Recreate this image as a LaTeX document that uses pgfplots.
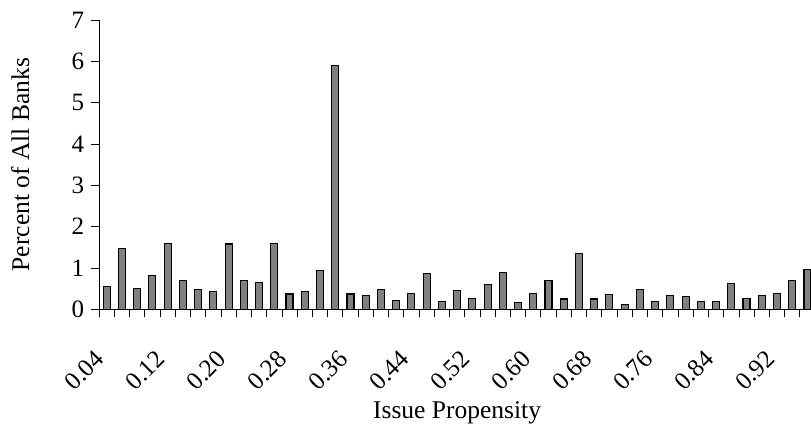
\documentclass[border=0pt]{standalone}
\usepackage{pgfplots}
\pgfplotsset{compat=1.18}
\usepackage{fontspec}
\setmainfont{Liberation Serif}

\begin{document}
\begin{tikzpicture}
  \begin{axis}[
      scale only axis,
      width=716pt, height=289.3pt,
      xmin=0.5, xmax=47.5,
      ymin=0, ymax=7,
      ytick={0,...,7},
      axis lines*=left,
      axis line style={black, line width=0.8pt},
      tick style={black, line width=0.8pt},
      tick align=outside,
      major tick length=8pt,
      /pgf/number format/assume math mode=true,
      tick label style={font=\fontsize{25}{25}\selectfont},
      y tick label style={xshift=-3.5pt},
      xtick={0.5,1.5,...,47.5},
      xticklabels={0.04,,,,0.12,,,,0.20,,,,0.28,,,,
                   0.36,,,,0.44,,,,0.52,,,,0.60,,,,
                   0.68,,,,0.76,,,,0.84,,,,0.92,,,},
      x tick label style={xshift=3.3pt, yshift=-35pt, rotate=45, anchor=east},
      xlabel={Issue Propensity},
      ylabel={Percent of All Banks},
      label style={font=\fontsize{25.5}{25.5}\selectfont},
      xlabel style={at={(axis description cs:0.5,-0.377)}, anchor=base},
      ylabel style={at={(axis description cs:-0.11,0.5)}, anchor=center},
      ybar, bar width=7pt,
    ]
    \addplot[fill=black!50, draw=black, line width=1.1pt] coordinates {
      (1,0.55) (2,1.48) (3,0.50) (4,0.81) (5,1.60) (6,0.70) (7,0.48) (8,0.42)
      (9,1.58) (10,0.69) (11,0.65) (12,1.60) (13,0.37) (14,0.42) (15,0.94) (16,5.90)
      (17,0.37) (18,0.34) (19,0.48) (20,0.22) (21,0.38) (22,0.87) (23,0.19) (24,0.46)
      (25,0.26) (26,0.61) (27,0.89) (28,0.17) (29,0.38) (30,0.70) (31,0.25) (32,1.35)
      (33,0.25) (34,0.35) (35,0.12) (36,0.48) (37,0.19) (38,0.33) (39,0.30) (40,0.19)
      (41,0.19) (42,0.63) (43,0.27) (44,0.33) (45,0.38) (46,0.70) (47,0.96)
    };
  \end{axis}
  \pgfresetboundingbox
  \path[use as bounding box] (-99.1pt,-117.7pt) rectangle (711.9pt,309.3pt);
\end{tikzpicture}
\end{document}
